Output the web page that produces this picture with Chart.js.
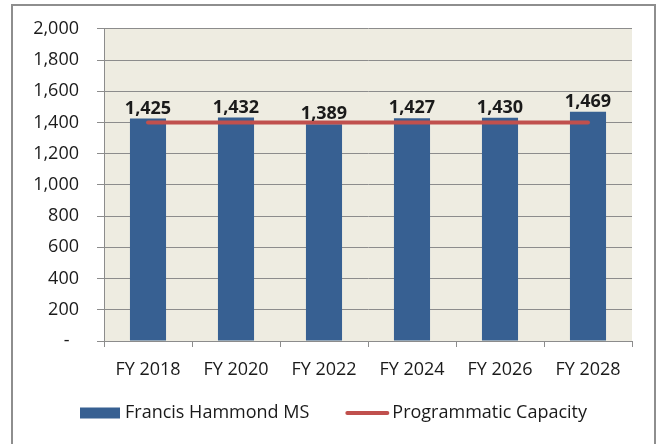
<!DOCTYPE html>
<html>
<head>
<meta charset="utf-8">
<script src="https://cdn.jsdelivr.net/npm/chart.js@4.4.1/dist/chart.umd.min.js"></script>
<style>
    html, body { margin: 0; padding: 0; background: #fff; }
    #wrap { position: relative; width: 657px; height: 444px; overflow: hidden; }
    #frame { position: absolute; left: 11px; top: 4px; width: 645px; height: 460px; box-sizing: border-box; border: 2px solid #8e8e8e; }
    canvas { position: absolute; left: 0; top: 0; }
</style>
</head>
<body>
<div id="wrap">
    <div id="frame"></div>
    <canvas id="chart" width="657" height="444"></canvas>
</div>
<script>
const categories = ['FY 2018', 'FY 2020', 'FY 2022', 'FY 2024', 'FY 2026', 'FY 2028'];
const enrollment = [1425, 1432, 1389, 1427, 1430, 1469];
const capacity = [1400, 1400, 1400, 1400, 1400, 1400];
const yTicks = [0, 200, 400, 600, 800, 1000, 1200, 1400, 1600, 1800, 2000];

const FONT = "'Open Sans', sans-serif";
const GRID = '#8c8c8c';
const TEXT = '#1a1a1a';

// beige plot background
const plotBg = {
    id: 'plotBg',
    beforeDraw(chart) {
        const { ctx, chartArea: a } = chart;
        ctx.save();
        ctx.fillStyle = '#EEECE1';
        ctx.fillRect(a.left, a.top, a.right - a.left, a.bottom - a.top);
        ctx.restore();
    }
};

// value labels above the bars
const barLabels = {
    id: 'barLabels',
    afterDatasetsDraw(chart) {
        const { ctx } = chart;
        const meta = chart.getDatasetMeta(0);
        ctx.save();
        ctx.font = `bold 18px ${FONT}`;
        ctx.fillStyle = TEXT;
        ctx.textAlign = 'center';
        ctx.textBaseline = 'bottom';
        meta.data.forEach((bar, i) => {
            ctx.fillText(enrollment[i].toLocaleString('en-US'), bar.x, bar.y - 1);
        });
        ctx.restore();
    }
};

// excel-style legend: box for the bars, short line for the capacity
const bottomLegend = {
    id: 'bottomLegend',
    afterDraw(chart) {
        const { ctx } = chart;
        const [bars, line] = chart.data.datasets;
        const y = 413;
        let x = 80;
        ctx.save();
        ctx.font = `18px ${FONT}`;
        ctx.textBaseline = 'middle';

        ctx.fillStyle = bars.backgroundColor;
        ctx.fillRect(x, y - 5.5, 40, 11);
        x += 45;
        ctx.fillStyle = TEXT;
        ctx.fillText(bars.label, x, y);
        x += ctx.measureText(bars.label).width + 36;

        ctx.strokeStyle = line.borderColor;
        ctx.lineWidth = 4;
        ctx.lineCap = 'round';
        ctx.beginPath();
        ctx.moveTo(x + 2, y);
        ctx.lineTo(x + 42, y);
        ctx.stroke();
        x += 47;
        ctx.fillText(line.label, x, y);
        ctx.restore();
    }
};

new Chart(document.getElementById('chart'), {
    type: 'bar',
    data: {
        labels: categories,
        datasets: [
            {
                label: 'Francis Hammond MS',
                data: enrollment,
                backgroundColor: '#376092',
                borderWidth: 0,
                barPercentage: 0.41,
                categoryPercentage: 1,
                order: 1
            },
            {
                type: 'line',
                label: 'Programmatic Capacity',
                data: capacity,
                borderColor: '#C0504D',
                backgroundColor: '#C0504D',
                borderWidth: 4,
                borderCapStyle: 'round',
                pointRadius: 0,
                order: 0
            }
        ]
    },
    options: {
        responsive: false,
        animation: false,
        layout: { padding: { left: 12, top: 28, right: 25, bottom: 69 } },
        scales: {
            x: {
                grid: { display: true, drawOnChartArea: false, color: GRID, tickLength: 6, offset: true },
                border: { color: GRID, width: 1 },
                ticks: { color: TEXT, font: { family: FONT, size: 18 }, padding: 12, maxRotation: 0 },
                afterFit: (s) => { s.height = 34; }
            },
            y: {
                min: 0,
                max: 2000,
                afterBuildTicks: (s) => { s.ticks = yTicks.map(v => ({ value: v })); },
                grid: { color: GRID, tickLength: 7 },
                border: { color: GRID, width: 1 },
                ticks: {
                    color: TEXT,
                    font: { family: FONT, size: 18 },
                    padding: 18,
                    callback: (v) => v === 0 ? '-  ' : v.toLocaleString('en-US')
                },
                afterFit: (s) => { s.width = 92; }
            }
        },
        plugins: {
            legend: { display: false },
            tooltip: { enabled: false }
        }
    },
    plugins: [plotBg, barLabels, bottomLegend]
});
</script>
</body>
</html>
